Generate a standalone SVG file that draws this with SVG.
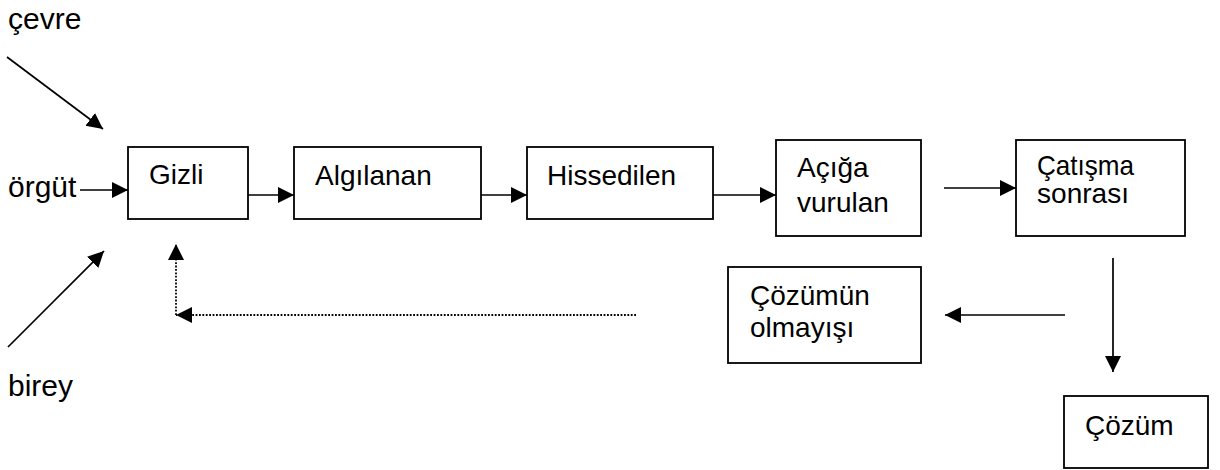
<svg xmlns="http://www.w3.org/2000/svg" width="1220" height="470" viewBox="0 0 1220 470">
<style>
text{font-family:"Liberation Sans",Arial,sans-serif;font-size:28px;fill:#000}
.lbl{font-size:30px}
.box{fill:#fff;stroke:#000;stroke-width:1.8}
.ln{stroke:#000;stroke-width:1.7;fill:none}
.dot{stroke:#000;stroke-width:1.8;fill:none;stroke-dasharray:1.8 1.6}
</style>
<defs>
<marker id="ah" markerUnits="userSpaceOnUse" markerWidth="18" markerHeight="18" viewBox="0 0 18 18" refX="16" refY="9" orient="auto">
<path d="M0,1 L16,9 L0,17 Z" fill="#000"/>
</marker>
</defs>
<rect width="1220" height="470" fill="#fff"/>
<g id="cevre"><text class="lbl" x="8" y="29">çevre</text></g>
<g id="orgut"><text class="lbl" x="8" y="197">örgüt</text></g>
<g id="birey"><text class="lbl" x="8" y="396">birey</text></g>
<g id="gizli"><rect class="box" x="128" y="147" width="120" height="72"/><text x="149" y="184">Gizli</text></g>
<g id="algilanan"><rect class="box" x="294" y="147" width="187" height="72"/><text x="315" y="185">Algılanan</text></g>
<g id="hissedilen"><rect class="box" x="527" y="147" width="186" height="72"/><text x="547" y="185">Hissedilen</text></g>
<g id="aciga"><rect class="box" x="776" y="140" width="145" height="96"/><text x="797" y="177">Açığa</text><text x="797" y="212">vurulan</text></g>
<g id="catisma"><rect class="box" x="1016" y="140" width="169" height="96"/><text x="1037" y="175" font-size="24" textLength="97" lengthAdjust="spacingAndGlyphs">Çatışma</text><text x="1037" y="203" font-size="24" textLength="92" lengthAdjust="spacingAndGlyphs">sonrası</text></g>
<g id="cozumun"><rect class="box" x="728" y="267" width="193" height="96"/><text x="750" y="305">Çözümün</text><text x="750" y="337">olmayışı</text></g>
<g id="cozum"><rect class="box" x="1064" y="396" width="144" height="72"/><text x="1085" y="435">Çözüm</text></g>
<g id="connectors">
<line class="ln" x1="7" y1="57" x2="103" y2="129" marker-end="url(#ah)"/>
<line class="ln" x1="80" y1="190" x2="128" y2="190" marker-end="url(#ah)"/>
<line class="ln" x1="8" y1="347" x2="104" y2="251" marker-end="url(#ah)"/>
<line class="ln" x1="248" y1="195" x2="294" y2="195" marker-end="url(#ah)"/>
<line class="ln" x1="481" y1="195" x2="527" y2="195" marker-end="url(#ah)"/>
<line class="ln" x1="713" y1="195" x2="776" y2="195" marker-end="url(#ah)"/>
<line class="ln" x1="944" y1="188" x2="1016" y2="188" marker-end="url(#ah)"/>
<line class="ln" x1="1113" y1="258" x2="1113" y2="372" marker-end="url(#ah)"/>
<line class="ln" x1="1065" y1="315" x2="945" y2="315" marker-end="url(#ah)"/>
<line class="dot" x1="636" y1="315" x2="176" y2="315" marker-end="url(#ah)"/>
<line class="dot" x1="176" y1="315" x2="176" y2="244" marker-end="url(#ah)"/>
</g>
</svg>
